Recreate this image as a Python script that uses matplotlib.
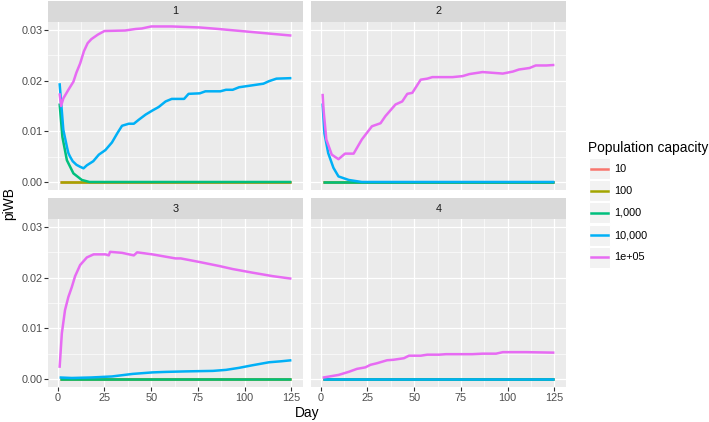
import matplotlib
matplotlib.use("Agg")
import matplotlib.pyplot as plt
from matplotlib.lines import Line2D
from matplotlib.patches import Rectangle

plt.rcParams['font.family'] = ['Liberation Sans', 'DejaVu Sans']

# ---------------- data ----------------
capacities = ["10", "100", "1,000", "10,000", "1e+05"]
colors = ["#F8766D", "#A3A500", "#00BF7D", "#00B0F6", "#E76BF3"]
panel_titles = ["1", "2", "3", "4"]

zero_days = [1, 125]
zero_vals = [0.0, 0.0]

# Panel 1
p1_green_days = [1, 2.5, 4.9, 8.4, 12.9, 17, 125]
p1_green_vals = [0.0155, 0.0089, 0.0043, 0.0017, 0.0004, 0.0, 0.0]
p1_blue_days = [1, 2, 3, 5, 5.7, 6.6, 8, 10, 12, 13.8, 15.6, 19, 22, 25.5, 29, 32, 34.4,
                38, 40.7, 43.4, 47, 50.6, 54, 57.7, 61, 67.6, 70, 76, 79, 87, 90, 93.6,
                97, 102.6, 110, 113, 117, 125]
p1_blue_vals = [0.0195, 0.0149, 0.0103, 0.0068, 0.0057, 0.0050, 0.0041, 0.0034, 0.0030,
                0.0027, 0.0033, 0.0041, 0.0054, 0.0063, 0.0078, 0.0097, 0.0111, 0.0115,
                0.0115, 0.0123, 0.0133, 0.0141, 0.0148, 0.0159, 0.0164, 0.0164, 0.0174,
                0.0175, 0.0179, 0.0179, 0.0182, 0.0182, 0.0187, 0.0190, 0.0194, 0.0199,
                0.0204, 0.0205]
p1_pink_days = [1, 1.8, 3, 5.7, 8.4, 10, 12, 14, 16, 18, 21.5, 25, 36, 41.6, 45, 50, 61,
                76, 86, 101, 125]
p1_pink_vals = [0.0175, 0.0150, 0.0165, 0.0182, 0.0198, 0.0216, 0.0234, 0.0258, 0.0274,
                0.0282, 0.0291, 0.0298, 0.0299, 0.0302, 0.0303, 0.0307, 0.0307, 0.0305,
                0.0302, 0.0297, 0.0289]

# Panel 2
p2_blue_days = [1, 2, 4, 6.8, 9.5, 15, 22, 125]
p2_blue_vals = [0.0155, 0.0096, 0.0057, 0.0028, 0.0011, 0.0004, 0.0, 0.0]
p2_pink_days = [1, 1.5, 3, 5.9, 9.5, 13, 14.9, 17.6, 22, 27.4, 32, 34.6, 40, 43.6, 46.3,
                49, 53.5, 57, 59.7, 70.5, 75.9, 79.5, 86.6, 97.4, 102.8, 106, 111.7,
                115, 120.7, 125]
p2_pink_vals = [0.0174, 0.0143, 0.0084, 0.0054, 0.0045, 0.0056, 0.0056, 0.0056, 0.0084,
                0.0110, 0.0116, 0.0130, 0.0153, 0.0159, 0.0174, 0.0176, 0.0202, 0.0204,
                0.0207, 0.0207, 0.0209, 0.0213, 0.0217, 0.0214, 0.0218, 0.0222, 0.0225,
                0.0230, 0.0230, 0.0231]

# Panel 3
p3_blue_days = [1, 7.5, 18, 29, 40, 50.6, 57.7, 68.5, 83, 90, 97, 104, 110, 113, 119.6, 125]
p3_blue_vals = [0.0003, 0.0002, 0.0003, 0.0005, 0.0010, 0.0013, 0.0014, 0.0015, 0.0016,
                0.0018, 0.0022, 0.0027, 0.0031, 0.0033, 0.0035, 0.0037]
p3_pink_days = [1, 2.2, 3.9, 5.7, 7.5, 9.3, 12, 15.6, 19.2, 25.5, 27.3, 28, 34.4, 40.7,
                42.5, 50.6, 63, 65.8, 75.7, 86.4, 93.6, 104, 115, 125]
p3_pink_vals = [0.0022, 0.0090, 0.0136, 0.0162, 0.0181, 0.0203, 0.0225, 0.0240, 0.0246,
                0.0246, 0.0244, 0.0251, 0.0249, 0.0244, 0.0250, 0.0246, 0.0238, 0.0238,
                0.0231, 0.0223, 0.0217, 0.0210, 0.0203, 0.0198]

# Panel 4
p4_pink_days = [1, 1.5, 9.5, 14.9, 19.4, 23.9, 26.6, 30, 35.5, 39, 44.5, 47.2, 53.5, 57,
                63.3, 67, 81, 86.6, 93.8, 97.4, 110, 125]
p4_pink_vals = [0.0003, 0.0003, 0.0008, 0.0014, 0.0020, 0.0023, 0.0028, 0.0031, 0.0037,
                0.0038, 0.0041, 0.0046, 0.0046, 0.0048, 0.0048, 0.0049, 0.0049, 0.0050,
                0.0050, 0.0053, 0.0053, 0.0052]

panels = [
    [(zero_days, zero_vals), (zero_days, zero_vals), (p1_green_days, p1_green_vals),
     (p1_blue_days, p1_blue_vals), (p1_pink_days, p1_pink_vals)],
    [(zero_days, zero_vals), (zero_days, zero_vals), (zero_days, zero_vals),
     (p2_blue_days, p2_blue_vals), (p2_pink_days, p2_pink_vals)],
    [(zero_days, zero_vals), (zero_days, zero_vals), (zero_days, zero_vals),
     (p3_blue_days, p3_blue_vals), (p3_pink_days, p3_pink_vals)],
    [(zero_days, zero_vals), (zero_days, zero_vals), (zero_days, zero_vals),
     (zero_days, zero_vals), (p4_pink_days, p4_pink_vals)],
]

x_ticks = [0, 25, 50, 75, 100, 125]
y_ticks = [0.00, 0.01, 0.02, 0.03]
y_ticklabels = ["0.00", "0.01", "0.02", "0.03"]

# ---------------- layout ----------------
W, H = 709, 422
fig = plt.figure(figsize=(W / 100, H / 100), dpi=100)


def px_axes(x0, y0, x1, y1):
    return fig.add_axes([x0 / W, 1 - y1 / H, (x1 - x0) / W, (y1 - y0) / H])


cols = [(48, 303), (311, 566)]
rows = [(22, 190, 1), (219, 387, 198)]  # plot top, plot bottom, strip top

tick_fs = 7.8
title_fs = 9.9
grey_text = "#4D4D4D"
lw = 1.8

for i in range(4):
    r, c = divmod(i, 2)
    x0, x1 = cols[c]
    top, bot, stop = rows[r]
    ax = px_axes(x0, top, x1, bot)
    ax.set_facecolor("#EBEBEB")
    for (d, v), col in zip(panels[i], colors):
        ax.plot(d, v, color=col, lw=lw, solid_capstyle="butt", zorder=3)
    ax.set_xlim(-5.2, 131.2)
    ax.set_ylim(-0.00158, 0.03158)
    ax.set_xticks(x_ticks)
    ax.set_yticks(y_ticks)
    ax.set_xticks([12.5, 37.5, 62.5, 87.5, 112.5], minor=True)
    ax.set_yticks([0.005, 0.015, 0.025], minor=True)
    ax.grid(which="major", color="white", lw=0.9, zorder=0)
    ax.grid(which="minor", color="white", lw=0.45, zorder=0)
    ax.set_axisbelow(True)
    for s in ax.spines.values():
        s.set_visible(False)
    ax.tick_params(which="minor", length=0)
    ax.tick_params(which="major", length=2.6, width=0.8, color="#333333",
                   labelsize=tick_fs, labelcolor=grey_text, pad=1.5)
    if c == 0:
        ax.set_yticklabels(y_ticklabels)
    else:
        ax.tick_params(axis="y", length=0)
        ax.set_yticklabels([])
    if r == 1:
        ax.set_xticklabels([str(t) for t in x_ticks])
    else:
        ax.tick_params(axis="x", length=0)
        ax.set_xticklabels([])
    # strip
    sax = px_axes(x0, stop, x1, top)
    sax.set_facecolor("#D9D9D9")
    sax.set_xticks([])
    sax.set_yticks([])
    for s in sax.spines.values():
        s.set_visible(False)
    sax.text(0.5, 0.5, panel_titles[i], ha="center", va="center",
             fontsize=tick_fs, color="#1A1A1A", transform=sax.transAxes)

fig.text(307 / W, 1 - 413 / H, "Day", ha="center", va="center", fontsize=title_fs)
fig.text(9 / W, 1 - 204 / H, "piWB", ha="center", va="center", rotation=90,
         fontsize=title_fs)

# ---------------- legend ----------------
lax = px_axes(580, 135, 709, 280)
lax.set_xlim(580, 709)
lax.set_ylim(280, 135)
lax.axis("off")
lax.text(588, 148, "Population capacity", ha="left", va="center", fontsize=title_fs)
for k, (lab, col) in enumerate(zip(capacities, colors)):
    yc = 169 + 22 * k
    lax.add_patch(Rectangle((588.5, yc - 10.5), 21, 21, facecolor="#F2F2F2",
                            edgecolor="white", lw=0.8))
    lax.add_line(Line2D([590.5, 607.5], [yc, yc], color=col, lw=lw))
    lax.text(614, yc, lab, ha="left", va="center", fontsize=tick_fs, color="black")

fig.savefig("out.png", dpi=100)
